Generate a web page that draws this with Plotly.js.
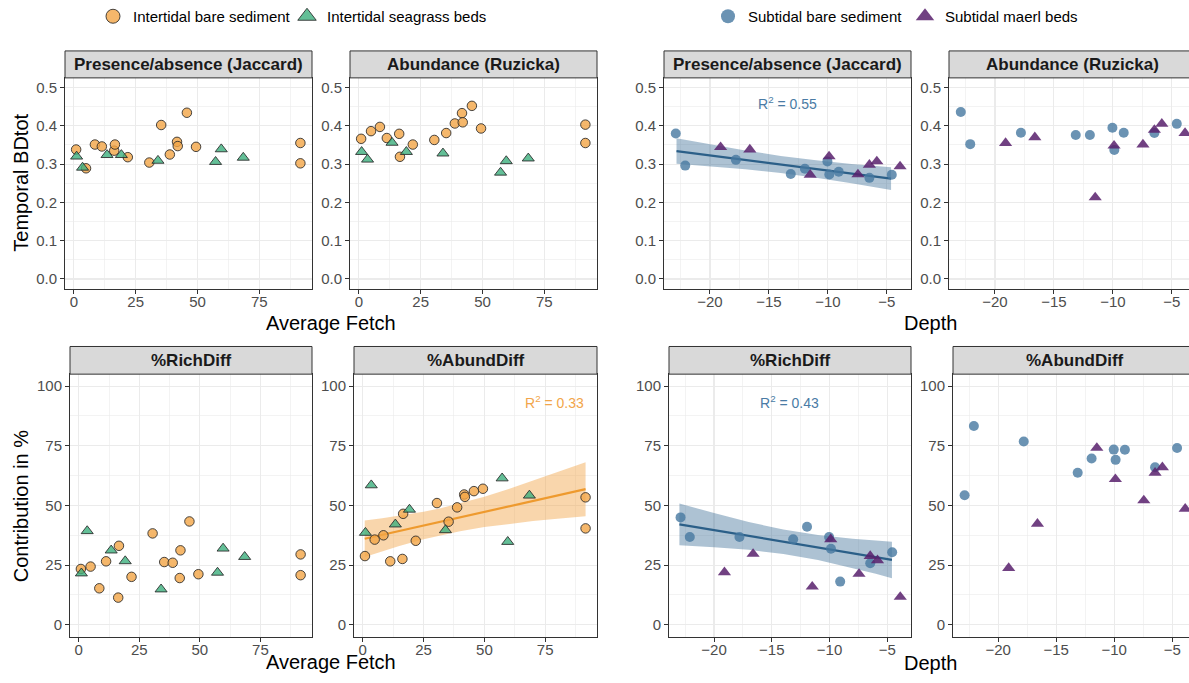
<!DOCTYPE html>
<html><head><meta charset="utf-8">
<script src="https://cdn.plot.ly/plotly-3.0.1.min.js"></script>
<style>html,body{margin:0;padding:0;overflow:hidden;background:#fff}#chart{width:1200px;height:683px}</style>
</head><body><div id="chart"></div>
<script>
// ---------- DATA ----------
const bareFetch = [0.9, 4.9, 8.5, 11.3, 16.3, 16.6, 21.8, 30.5, 35.3, 38.8, 41.7, 42.0, 45.7, 49.4, 91.6, 91.6];
const bareJaccardFetch  = [0.338, 0.289, 0.351, 0.346, 0.335, 0.351, 0.318, 0.304, 0.402, 0.325, 0.358, 0.347, 0.434, 0.345, 0.355, 0.302];
const bareRuzickaFetch  = [0.366, 0.386, 0.397, 0.368, 0.379, 0.319, 0.351, 0.363, 0.381, 0.406, 0.433, 0.409, 0.452, 0.393, 0.403, 0.355];
const bareRichDiffFetch = [23.4, 24.4, 15.3, 26.6, 11.4, 33.1, 20.1, 38.3, 26.3, 26.0, 19.6, 31.2, 43.3, 21.2, 29.5, 20.8];
const bareAbundDiffFetch= [28.8, 35.7, 37.5, 26.6, 27.6, 46.5, 35.2, 51.0, 43.2, 49.2, 54.6, 53.6, 56.0, 57.0, 53.4, 40.4];

const seagrassFetch = [1.1, 3.5, 13.4, 19.2, 34.0, 57.3, 59.6, 68.5];
const seagrassJaccardFetch  = [0.320, 0.291, 0.324, 0.324, 0.309, 0.306, 0.339, 0.317];
const seagrassRuzickaFetch  = [0.332, 0.312, 0.356, 0.332, 0.328, 0.278, 0.308, 0.315];
const seagrassRichDiffFetch = [21.6, 39.3, 31.2, 26.7, 14.9, 21.9, 32.0, 28.5];
const seagrassAbundDiffFetch= [38.6, 58.5, 42.1, 48.3, 39.7, 61.4, 34.8, 54.2];

const subBareDepth = [-22.9, -22.1, -17.8, -13.15, -11.95, -10.04, -9.88, -9.08, -6.48, -4.58];
const subBareJaccard  = [0.380, 0.296, 0.311, 0.274, 0.288, 0.307, 0.273, 0.280, 0.264, 0.272];
const subBareRuzicka  = [0.436, 0.352, 0.382, 0.376, 0.376, 0.395, 0.337, 0.382, 0.381, 0.405];
const subBareRichDiff = [45.0, 36.8, 36.8, 35.8, 41.1, 36.8, 31.9, 18.1, 25.8, 30.4];
const subBareAbundDiff= [54.3, 83.3, 76.8, 63.7, 69.7, 73.4, 69.1, 73.3, 66.0, 74.1];

const maerlDepth = [-19.1, -16.62, -11.5, -9.9, -7.45, -6.48, -5.85, -3.88];
const maerlJaccard  = [0.344, 0.338, 0.272, 0.320, 0.273, 0.298, 0.307, 0.294];
const maerlRuzicka  = [0.355, 0.370, 0.213, 0.348, 0.351, 0.389, 0.405, 0.381];
const maerlRichDiff = [22.0, 29.7, 16.0, 35.8, 21.3, 28.8, 27.0, 11.7];
const maerlAbundDiff= [23.8, 42.3, 74.1, 61.0, 52.1, 63.7, 66.0, 48.6];

// fitted lines and confidence bands
const jacDepthFitX = [-22.84, -4.64];
const jacDepthFitY = [0.334, 0.262];
const jacDepthBandX  = [-22.84, -20, -17, -14, -11, -8, -6, -4.64];
const jacDepthBandLo = [0.3008, 0.2944, 0.2864, 0.2766, 0.2645, 0.2501, 0.2396, 0.2321];
const jacDepthBandHi = [0.3672, 0.3512, 0.3354, 0.3214, 0.3099, 0.3005, 0.2952, 0.2919];

const richDepthFitX = [-23.0, -4.6];
const richDepthFitY = [42.1, 27.2];
const richDepthBandX  = [-23, -20, -17, -14, -11, -8, -6, -4.6];
const richDepthBandLo = [33.35, 32.54, 31.40, 29.70, 27.18, 23.89, 21.39, 19.55];
const richDepthBandHi = [50.85, 46.80, 43.08, 39.92, 37.58, 36.01, 35.27, 34.85];

const abundFetchFitX = [0.8, 91.6];
const abundFetchFitY = [36.05, 56.82];
const abundFetchBandX  = [0.8, 8, 15, 25, 32, 40, 50, 60, 70, 80, 91.6];
const abundFetchBandLo = [28.4, 30.8, 33.0, 35.83, 37.56, 39.23, 40.93, 42.31, 43.46, 44.46, 45.5];
const abundFetchBandHi = [43.7, 44.6, 45.6, 47.35, 48.84, 50.81, 53.67, 56.87, 60.3, 63.88, 68.14];

const stripLabels = ['Presence/absence (Jaccard)', 'Abundance (Ruzicka)', 'Presence/absence (Jaccard)', 'Abundance (Ruzicka)',
                     '%RichDiff', '%AbundDiff', '%RichDiff', '%AbundDiff'];
const r2Labels = ['R<sup>2</sup> = 0.55', 'R<sup>2</sup> = 0.43', 'R<sup>2</sup> = 0.33'];
const legendNames = ['Intertidal bare sediment', 'Intertidal seagrass beds', 'Subtidal bare sediment', 'Subtidal maerl beds'];

// ---------- STYLE / LAYOUT ----------
const W = 1200, H = 683;
const FONT = '"Liberation Sans", Arial, Helvetica, sans-serif';
const ORANGE = {symbol:'circle', size:9.5, color:'rgba(242,165,70,0.8)', line:{color:'rgba(40,40,40,0.85)', width:1}};
const GREEN  = {symbol:'triangle-up', size:10.5, color:'rgba(60,175,125,0.8)', line:{color:'rgba(40,40,40,0.85)', width:1}};
const BLUE   = {symbol:'circle', size:10, color:'rgba(70,120,160,0.8)', line:{width:0}};
const PURPLE = {symbol:'triangle-up', size:11.5, color:'rgba(88,32,108,0.85)', line:{width:0}};

// pixel boxes [left, right, top, bottom]
const boxes = [
  [65, 312, 77, 288], [350, 597, 77, 288], [664, 911, 77, 288], [949, 1196, 77, 288],
  [70, 312, 373.7, 636.7], [354, 597, 373.7, 636.7], [669, 911, 373.7, 636.7], [953, 1196, 373.7, 636.7]
];
const kinds = ['fetch','fetch','depth','depth','fetch','fetch','depth','depth'];
const rows  = ['top','top','top','top','bot','bot','bot','bot'];

const traces = [];
const ax = i => (i === 1 ? '' : i);
function pts(i, xs, ys, marker) {
  traces.push({type:'scatter', mode:'markers', x:xs, y:ys, xaxis:'x'+ax(i), yaxis:'y'+ax(i),
    marker:marker, showlegend:false, hoverinfo:'skip'});
}
function band(i, bx, lo, hi, color) {
  traces.push({type:'scatter', mode:'lines', x:bx.concat(bx.slice().reverse()), y:lo.concat(hi.slice().reverse()),
    fill:'toself', fillcolor:color, line:{width:0}, xaxis:'x'+ax(i), yaxis:'y'+ax(i), showlegend:false, hoverinfo:'skip'});
}
function line(i, fx, fy, color) {
  traces.push({type:'scatter', mode:'lines', x:fx, y:fy, line:{color:color, width:2.2}, xaxis:'x'+ax(i), yaxis:'y'+ax(i),
    showlegend:false, hoverinfo:'skip'});
}

band(3, jacDepthBandX, jacDepthBandLo, jacDepthBandHi, 'rgba(60,110,150,0.42)');
line(3, jacDepthFitX, jacDepthFitY, '#2b5f88');
band(7, richDepthBandX, richDepthBandLo, richDepthBandHi, 'rgba(60,110,150,0.42)');
line(7, richDepthFitX, richDepthFitY, '#2b5f88');
band(6, abundFetchBandX, abundFetchBandLo, abundFetchBandHi, 'rgba(242,165,70,0.45)');
line(6, abundFetchFitX, abundFetchFitY, '#ee9a2e');

pts(1, bareFetch, bareJaccardFetch, ORANGE);      pts(1, seagrassFetch, seagrassJaccardFetch, GREEN);
pts(2, bareFetch, bareRuzickaFetch, ORANGE);      pts(2, seagrassFetch, seagrassRuzickaFetch, GREEN);
pts(5, bareFetch, bareRichDiffFetch, ORANGE);     pts(5, seagrassFetch, seagrassRichDiffFetch, GREEN);
pts(6, bareFetch, bareAbundDiffFetch, ORANGE);    pts(6, seagrassFetch, seagrassAbundDiffFetch, GREEN);
pts(3, subBareDepth, subBareJaccard, BLUE);       pts(3, maerlDepth, maerlJaccard, PURPLE);
pts(4, subBareDepth, subBareRuzicka, BLUE);       pts(4, maerlDepth, maerlRuzicka, PURPLE);
pts(7, subBareDepth, subBareRichDiff, BLUE);      pts(7, maerlDepth, maerlRichDiff, PURPLE);
pts(8, subBareDepth, subBareAbundDiff, BLUE);     pts(8, maerlDepth, maerlAbundDiff, PURPLE);

// legend-only traces
const legMarkers = [
  Object.assign({}, ORANGE, {size:14}), Object.assign({}, GREEN, {size:16}),
  Object.assign({}, BLUE, {size:14}), Object.assign({}, PURPLE, {size:16})
];
const legWidths = [149, 175, 152, 160];
legendNames.forEach((n, k) => {
  traces.push({type:'scatter', mode:'markers', x:[null], y:[null], name:n, marker:legMarkers[k],
    showlegend:true, legend: k < 2 ? 'legend' : 'legend2', legendwidth:legWidths[k], hoverinfo:'skip'});
});

const legendBase = {orientation:'h', y:1-16/H, yanchor:'middle', xanchor:'left', font:{family:FONT, size:15, color:'#000'},
  bgcolor:'rgba(0,0,0,0)', itemsizing:'trace', traceorder:'normal'};
const layout = {
  width: W, height: H, margin:{l:0, r:0, t:0, b:0}, paper_bgcolor:'#fff', plot_bgcolor:'#fff',
  font:{family:FONT, color:'#000'}, hovermode:false,
  legend: Object.assign({}, legendBase, {x:(113-20)/W}),
  legend2: Object.assign({}, legendBase, {x:(728-20)/W}),
  shapes:[], annotations:[]
};

boxes.forEach((b, k) => {
  const i = k + 1, s = ax(i);
  const isFetch = kinds[k] === 'fetch', isTop = rows[k] === 'top';
  layout['xaxis' + s] = {
    domain:[b[0]/W, b[1]/W], anchor:'y' + s,
    range: isFetch ? [-3.6, 96.3] : [-23.9, -2.95],
    tickmode:'linear', tick0: isFetch ? 0 : -20, dtick: isFetch ? 25 : 5,
    minor:{tick0: isFetch ? 12.5 : -22.5, dtick: isFetch ? 12.5 : 2.5, showgrid:true, gridcolor:'#ebebeb', gridwidth:0.6, ticks:''},
    ticks:'outside', ticklen:4, tickwidth:1, tickcolor:'#333', ticklabelstandoff:-5,
    showline:true, mirror:true, linecolor:'#333', linewidth:1,
    showgrid:true, gridcolor:'#ebebeb', gridwidth:1.1, zeroline:false,
    tickfont:{family:FONT, size:15, color:'#4d4d4d'}, automargin:false, fixedrange:true
  };
  layout['yaxis' + s] = {
    domain:[1 - b[3]/H, 1 - b[2]/H], anchor:'x' + s,
    range: isTop ? [-0.025, 0.525] : [-5, 105],
    tickmode:'linear', tick0:0, dtick: isTop ? 0.1 : 25, tickformat: isTop ? '.1f' : '',
    minor:{tick0: isTop ? 0.05 : 12.5, dtick: isTop ? 0.05 : 12.5, showgrid:true, gridcolor:'#ebebeb', gridwidth:0.6, ticks:''},
    ticks:'outside', ticklen:4, tickwidth:1, tickcolor:'#333',
    showline:true, mirror:true, linecolor:'#333', linewidth:1,
    showgrid:true, gridcolor:'#ebebeb', gridwidth:1.1, zeroline:false,
    tickfont:{family:FONT, size:15, color:'#4d4d4d'}, automargin:false, fixedrange:true
  };
  const stripTop = isTop ? 50 : 346;
  layout.shapes.push({type:'rect', xref:'paper', yref:'paper', x0:b[0]/W, x1:b[1]/W, y0:1 - b[2]/H, y1:1 - stripTop/H,
    fillcolor:'#d9d9d9', line:{color:'#333', width:1}, layer:'above'});
  layout.annotations.push({xref:'paper', yref:'paper', x:(b[0]+b[1])/2/W, y:1 - (stripTop + b[2])/2/H,
    xanchor:'center', yanchor:'middle', showarrow:false, text:'<b>' + stripLabels[k] + '</b>',
    font:{family:FONT, size:17, color:'#1a1a1a'}});
});

// R² labels
layout.annotations.push({xref:'paper', yref:'paper', x:787/W, y:1-102/H, xanchor:'center', yanchor:'middle', showarrow:false,
  text:r2Labels[0], font:{family:FONT, size:14, color:'#4a7ba5'}});
layout.annotations.push({xref:'paper', yref:'paper', x:789/W, y:1-402/H, xanchor:'center', yanchor:'middle', showarrow:false,
  text:r2Labels[1], font:{family:FONT, size:14, color:'#4a7ba5'}});
layout.annotations.push({xref:'paper', yref:'paper', x:554/W, y:1-402/H, xanchor:'center', yanchor:'middle', showarrow:false,
  text:r2Labels[2], font:{family:FONT, size:14, color:'#f2a54a'}});

// axis titles
const axTitle = (t, x, y, ang) => layout.annotations.push({xref:'paper', yref:'paper', x:x/W, y:1-y/H, xanchor:'center', yanchor:'middle',
  showarrow:false, text:t, textangle:ang || 0, font:{family:FONT, size:20, color:'#000'}});
axTitle('Average Fetch', 331, 322);
axTitle('Average Fetch', 331, 662);
axTitle('Depth', 930, 322);
axTitle('Depth', 930, 663);
axTitle('Temporal BDtot', 21, 182, -90);
axTitle('Contribution in %', 21, 506, -90);

Plotly.newPlot('chart', traces, layout, {staticPlot:true, displayModeBar:false});
</script></body></html>
